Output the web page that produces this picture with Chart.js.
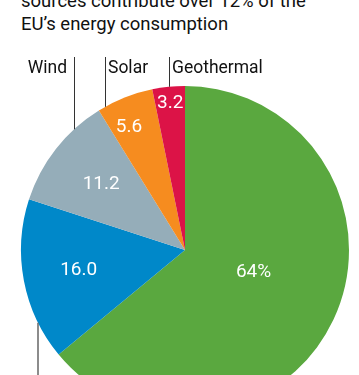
<!DOCTYPE html>
<html lang="en">
<head>
  <meta charset="UTF-8">
  <title>EU renewables</title>
  <style>
    body {
      margin: 0;
      padding: 0;
      width: 359px;
      height: 375px;
      overflow: hidden;
      background: #fff;
      position: relative;
      font-family: Roboto, Arial, sans-serif;
    }
    .title {
      position: absolute;
      left: 21px;
      top: -10px;
      font-size: 18.5px;
      line-height: 23px;
      color: #111;
    }
    #wrap {
      position: absolute;
      left: 0;
      top: 0;
      width: 359px;
      height: 420px;
    }
  </style>
</head>
<body>

  <div class="title">sources contribute over 12% of the<br>EU’s energy consumption</div>
  <div id="wrap"><canvas id="pie"></canvas></div>

  <script src="https://cdn.jsdelivr.net/npm/chart.js"></script>
  <script>
    // slices, clockwise from 12 o'clock
    const categories = ['Other', 'Hydro', 'Wind', 'Solar', 'Geothermal'];
    const shares = [64, 16.0, 11.2, 5.6, 3.2];
    const valueLabels = ['64%', '16.0', '11.2', '5.6', '3.2'];
    const colors = ['#5aa83f', '#0088c9', '#95adb9', '#f68c1f', '#dc1347'];

    // where each value label sits: fraction of radius, nudge in degrees
    const labelRadius = [0.44, 0.66, 0.65, 0.82, 0.90];
    const labelNudge = [-7, 0, 0, -3, 0];

    // callout labels above the pie: text, x of leader line, text side
    const callouts = [
      { text: 'Wind', x: 74, align: 'right' },
      { text: 'Solar', x: 105, align: 'left' },
      { text: 'Geothermal', x: 169, align: 'left' }
    ];

    const labelsPlugin = {
      id: 'pieLabels',
      afterDatasetsDraw(chart) {
        const ctx = chart.ctx;
        const arcs = chart.getDatasetMeta(0).data;
        const cx = arcs[0].x, cy = arcs[0].y, r = arcs[0].outerRadius;

        // value labels inside slices
        ctx.save();
        ctx.fillStyle = '#fff';
        ctx.font = '19px Roboto, Arial, sans-serif';
        ctx.textAlign = 'center';
        ctx.textBaseline = 'middle';
        arcs.forEach((arc, i) => {
          const mid = (arc.startAngle + arc.endAngle) / 2 + labelNudge[i] * Math.PI / 180;
          const d = r * labelRadius[i];
          ctx.fillText(valueLabels[i], cx + Math.cos(mid) * d, cy + Math.sin(mid) * d);
        });
        ctx.restore();

        // leader lines + names
        ctx.save();
        ctx.strokeStyle = '#333';
        ctx.lineWidth = 1;
        ctx.fillStyle = '#111';
        ctx.font = '17.5px Roboto, Arial, sans-serif';
        ctx.textBaseline = 'alphabetic';
        callouts.forEach(c => {
          const edge = cy - Math.sqrt(r * r - (c.x - cx) * (c.x - cx));
          ctx.beginPath();
          ctx.moveTo(c.x + 0.5, 57);
          ctx.lineTo(c.x + 0.5, edge);
          ctx.stroke();
          ctx.textAlign = c.align;
          ctx.fillText(c.text, c.align === 'left' ? c.x + 3 : c.x - 7, 73);
        });
        // line for the label below the pie (cut off)
        const bx = 38;
        const bedge = cy + Math.sqrt(r * r - (bx - cx) * (bx - cx));
        ctx.strokeStyle = '#666';
        ctx.lineWidth = 1.5;
        ctx.beginPath();
        ctx.moveTo(bx, bedge);
        ctx.lineTo(bx, chart.height);
        ctx.stroke();
        ctx.restore();
      }
    };

    new Chart(document.getElementById('pie'), {
      type: 'pie',
      data: {
        labels: categories,
        datasets: [{
          data: shares,
          backgroundColor: colors,
          borderWidth: 0
        }]
      },
      options: {
        responsive: true,
        maintainAspectRatio: false,
        animation: false,
        layout: { padding: { top: 86, left: 21, right: 10, bottom: 6 } },
        plugins: {
          legend: { display: false },
          tooltip: { enabled: false }
        }
      },
      plugins: [labelsPlugin]
    });
  </script>
</body>
</html>
